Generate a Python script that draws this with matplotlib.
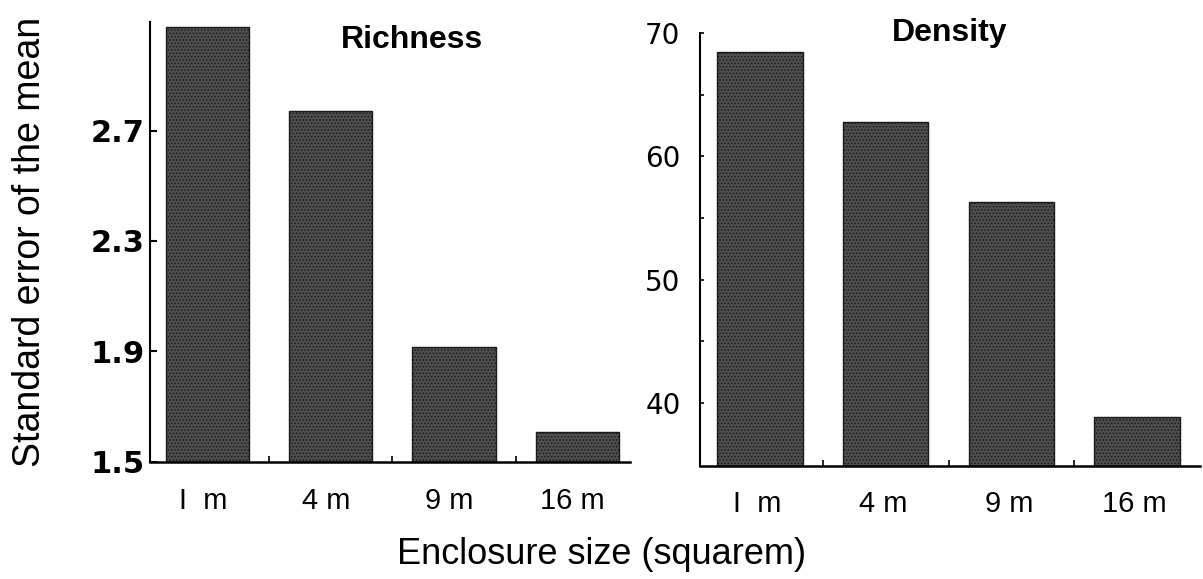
import numpy as np
import matplotlib
matplotlib.use('Agg')
import matplotlib.pyplot as plt

# data
sizes = ['I  m', '4 m', '9 m', '16 m']
richness = [3.075, 2.77, 1.915, 1.61]
density = [68.45, 62.8, 56.3, 38.9]

plt.rcParams['font.family'] = ['Liberation Sans', 'DejaVu Sans']
plt.rcParams['hatch.color'] = '#d0d0d0'
plt.rcParams['hatch.linewidth'] = 0.7

fig = plt.figure(figsize=(12.03, 5.79), dpi=100)
ax1 = fig.add_axes([0.1247, 0.2021, 0.399, 0.760])
ax2 = fig.add_axes([0.5819, 0.195, 0.4156, 0.748])

bar_kw = dict(color='#4e4e4e', edgecolor='#1a1a1a', linewidth=1.0, hatch='.....')
x = np.arange(len(sizes))
tick_font = dict(fontsize=21)

# Richness
ax1.bar(x, richness, width=0.675, **bar_kw)
ax1.set_ylim(1.5, 3.093)
ax1.set_xlim(-0.47, 3.43)
ax1.set_yticks([1.5, 1.9, 2.3, 2.7])
ax1.set_yticklabels(['1.5', '1.9', '2.3', '2.7'], fontsize=22, fontweight='bold',
                    family='DejaVu Sans')
ax1.tick_params(axis='y', length=5, width=1.5, direction='in', pad=4)
ax1.set_xticks(x - 0.04)
ax1.set_xticklabels(sizes, **tick_font)
ax1.set_xticks(x[:-1] + 0.5, minor=True)
ax1.tick_params(axis='x', which='major', length=0, pad=18)
ax1.tick_params(axis='x', which='minor', length=4, width=1.2, direction='in')
ax1.text(0.546, 0.993, 'Richness', transform=ax1.transAxes, ha='center', va='top',
         fontsize=23, fontweight='bold')

# Density
ax2.bar(x, density, width=0.68, **bar_kw)
ax2.set_ylim(34.9, 70)
ax2.set_xlim(-0.477, 3.5)
ax2.set_yticks([40, 50, 60, 70])
ax2.set_yticklabels(['40', '50', '60', '70'], fontsize=20, family='DejaVu Sans')
ax2.set_yticks([45, 55, 65], minor=True)
ax2.tick_params(axis='y', which='both', length=3, width=1.2, direction='in', pad=14)
ax2.set_xticks(x - 0.02)
ax2.set_xticklabels(sizes, **tick_font)
ax2.set_xticks(x[:-1] + 0.5, minor=True)
ax2.tick_params(axis='x', which='major', length=0, pad=17)
ax2.tick_params(axis='x', which='minor', length=4, width=1.2, direction='in')
ax2.text(0.5, 1.035, 'Density', transform=ax2.transAxes, ha='center', va='top',
         fontsize=23, fontweight='bold')

for ax in (ax1, ax2):
    ax.spines['top'].set_visible(False)
    ax.spines['right'].set_visible(False)
    ax.spines['left'].set_linewidth(1.5)
    ax.spines['bottom'].set_linewidth(1.8)

fig.text(0.025, 0.582, 'Standard error of the mean', rotation=90, ha='center',
         va='center', fontsize=27)
fig.text(0.5, 0.043, 'Enclosure size (squarem)', ha='center', va='center', fontsize=26)

plt.savefig('out.png', dpi=100)
